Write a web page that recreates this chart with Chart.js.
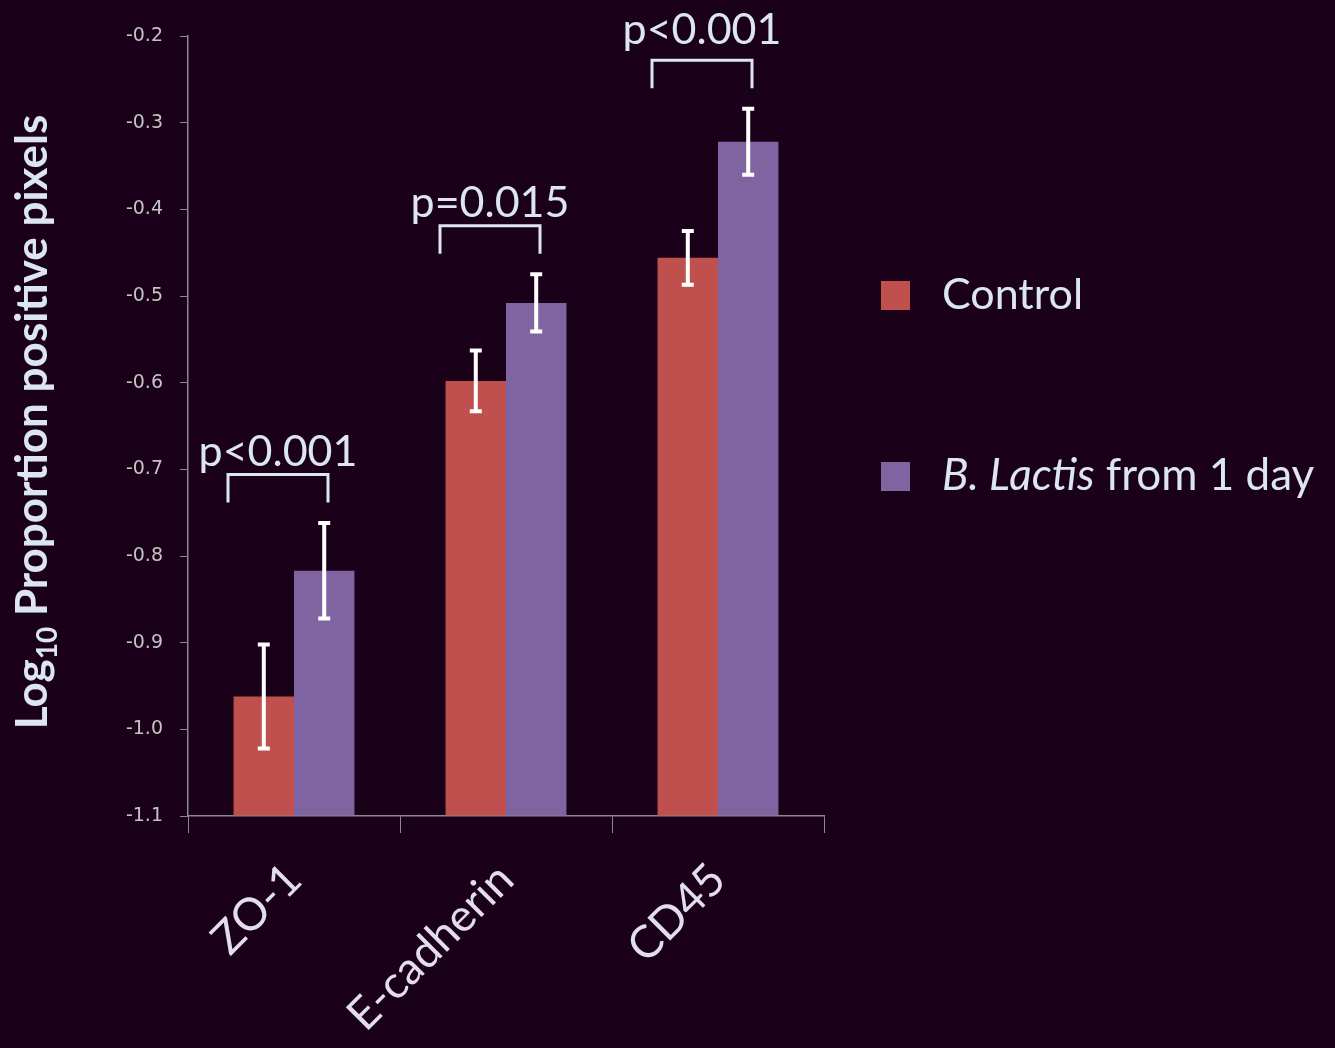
<!DOCTYPE html>
<html>
<head>
<meta charset="utf-8">
<script src="https://cdn.jsdelivr.net/npm/chart.js@4.4.1/dist/chart.umd.min.js"></script>
<style>
  html, body { margin: 0; padding: 0; background: #1b0019; }
  #wrap { width: 1335px; height: 1048px; }
</style>
</head>
<body>
<div id="wrap"><canvas id="chart" width="1335" height="1048"></canvas></div>
<script>
// data
const categories = ["ZO-1", "E-cadherin", "CD45"];
const controlValues = [-0.962, -0.598, -0.456];
const controlErrors = [0.060, 0.035, 0.031];
const lactisValues = [-0.817, -0.508, -0.322];
const lactisErrors = [0.055, 0.033, 0.038];
const pValues = ["p<0.001", "p=0.015", "p<0.001"];
const yTicks = [-1.1, -1.0, -0.9, -0.8, -0.7, -0.6, -0.5, -0.4, -0.3, -0.2];

const textColor = "#dce6ee";
const axisColor = "#8a8a8a";
const uiFont = "Lato, 'Open Sans', sans-serif";

// white error bars on top of each bar
const errorBarPlugin = {
    id: "errorBars",
    afterDatasetsDraw(chart) {
        const ctx = chart.ctx;
        const y = chart.scales.y;
        const errs = [controlErrors, lactisErrors];
        ctx.save();
        ctx.strokeStyle = "#ffffff";
        ctx.lineWidth = 4;
        chart.data.datasets.forEach((ds, di) => {
            chart.getDatasetMeta(di).data.forEach((bar, i) => {
                const v = ds.data[i];
                const top = y.getPixelForValue(v + errs[di][i]);
                const bot = y.getPixelForValue(v - errs[di][i]);
                ctx.beginPath();
                ctx.moveTo(bar.x, top);
                ctx.lineTo(bar.x, bot);
                ctx.moveTo(bar.x - 6, top);
                ctx.lineTo(bar.x + 6, top);
                ctx.moveTo(bar.x - 6, bot);
                ctx.lineTo(bar.x + 6, bot);
                ctx.stroke();
            });
        });
        ctx.restore();
    }
};

// significance brackets with p-values
const bracketPlugin = {
    id: "brackets",
    afterDatasetsDraw(chart) {
        const ctx = chart.ctx;
        const x = chart.scales.x;
        const y = chart.scales.y;
        ctx.save();
        ctx.strokeStyle = textColor;
        ctx.fillStyle = textColor;
        ctx.lineWidth = 3;
        categories.forEach((c, i) => {
            const level = Math.max(controlValues[i] + controlErrors[i], lactisValues[i] + lactisErrors[i]) + 0.056;
            const cx = x.getPixelForValue(i);
            const left = cx - 66;
            const right = cx + 34;
            const topY = y.getPixelForValue(level);
            ctx.beginPath();
            ctx.moveTo(left, topY + 28);
            ctx.lineTo(left, topY);
            ctx.lineTo(right, topY);
            ctx.lineTo(right, topY + 28);
            ctx.stroke();
            ctx.font = "43px " + uiFont;
            ctx.textAlign = "center";
            ctx.textBaseline = "alphabetic";
            ctx.fillText(pValues[i], (left + right) / 2, topY - (i === 2 ? 16 : 9));
        });
        ctx.restore();
    }
};

// y title with subscript and the custom legend
const decorPlugin = {
    id: "decor",
    afterDraw(chart) {
        const ctx = chart.ctx;
        ctx.save();
        // y axis title
        ctx.fillStyle = textColor;
        ctx.translate(47, 422);
        ctx.rotate(-Math.PI / 2);
        ctx.textBaseline = "alphabetic";
        const big = "bold 44px " + uiFont;
        const small = "bold 28px " + uiFont;
        const parts = [["Log", big, 0], ["10", small, 10], [" Proportion positive pixels", big, 0]];
        let w = 0;
        parts.forEach(p => { ctx.font = p[1]; w += ctx.measureText(p[0]).width; });
        let px = -w / 2;
        parts.forEach(p => {
            ctx.font = p[1];
            ctx.textAlign = "left";
            ctx.fillText(p[0], px, p[2]);
            px += ctx.measureText(p[0]).width;
        });
        ctx.restore();

        // legend
        ctx.save();
        const items = [
            { color: chart.data.datasets[0].backgroundColor, y: 295, parts: [["Control", "43px " + uiFont]] },
            { color: chart.data.datasets[1].backgroundColor, y: 476, parts: [["B. Lactis", "italic 44px " + uiFont], [" from 1 day", "44px " + uiFont]] }
        ];
        items.forEach(it => {
            ctx.fillStyle = it.color;
            ctx.fillRect(881, it.y - 14, 29, 29);
            ctx.fillStyle = textColor;
            ctx.textBaseline = "middle";
            ctx.textAlign = "left";
            let lx = 942;
            it.parts.forEach(p => {
                ctx.font = p[1];
                ctx.fillText(p[0], lx, it.y);
                lx += ctx.measureText(p[0]).width;
            });
        });
        ctx.restore();
    }
};

const bgPlugin = {
    id: "bg",
    beforeDraw(chart) {
        const ctx = chart.ctx;
        ctx.save();
        ctx.fillStyle = "#1b0019";
        ctx.fillRect(0, 0, chart.width, chart.height);
        ctx.restore();
    }
};

new Chart(document.getElementById("chart").getContext("2d"), {
    type: "bar",
    data: {
        labels: categories,
        datasets: [
            {
                label: "Control",
                data: controlValues,
                backgroundColor: "#c0504d",
                base: yTicks[0],
                categoryPercentage: 0.57,
                barPercentage: 1.0
            },
            {
                label: "B. Lactis from 1 day",
                data: lactisValues,
                backgroundColor: "#8064a2",
                base: yTicks[0],
                categoryPercentage: 0.57,
                barPercentage: 1.0
            }
        ]
    },
    options: {
        responsive: false,
        animation: false,
        layout: { padding: { left: 0, right: 511, top: 36, bottom: 0 } },
        plugins: {
            legend: { display: false },
            tooltip: { enabled: false }
        },
        scales: {
            x: {
                grid: { drawOnChartArea: false, color: axisColor, tickLength: 17, offset: true },
                border: { color: axisColor, width: 1.5 },
                ticks: {
                    color: "#e2def0",
                    font: { family: uiFont, size: 45 },
                    maxRotation: 45,
                    minRotation: 45,
                    padding: 20
                },
                afterFit(s) { s.height = 232; }
            },
            y: {
                min: yTicks[0],
                max: yTicks[yTicks.length - 1],
                afterBuildTicks(s) { s.ticks = yTicks.map(v => ({ value: v })); },
                grid: { drawOnChartArea: false, color: axisColor, tickLength: 8 },
                border: { color: axisColor, width: 1.5 },
                ticks: {
                    color: "#c4c4c4",
                    font: { family: "'DejaVu Sans', sans-serif", size: 19 },
                    padding: 17,
                    callback: v => Number(v).toFixed(1)
                },
                afterFit(s) { s.width = 188; }
            }
        }
    },
    plugins: [bgPlugin, errorBarPlugin, bracketPlugin, decorPlugin]
});
</script>
</body>
</html>
